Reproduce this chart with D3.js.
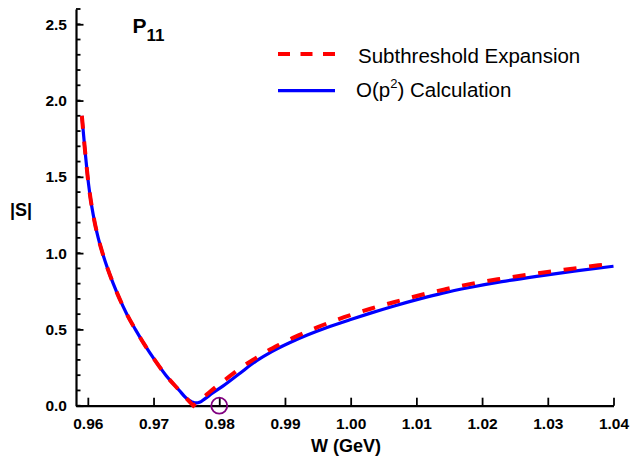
<!DOCTYPE html>
<html>
<head>
<meta charset="utf-8">
<script src="https://cdn.jsdelivr.net/npm/d3@7"></script>
<style>
  body { margin: 0; background: #fff; }
  svg { display: block; font-family: Arial, "Liberation Sans", sans-serif; }
</style>
</head>
<body>
<svg width="630" height="465"></svg>
<script>
const width = 630, height = 465;

// left branch, shared by both curves (W in GeV, |S|)
const wLeft = [0.95909, 0.95930, 0.95951, 0.95974, 0.95998, 0.96027, 0.96062, 0.96105, 0.96158, 0.96224,
               0.96300, 0.96387, 0.96484, 0.96594, 0.96723, 0.96863, 0.97017, 0.97187, 0.97393, 0.97496];
const sLeft = [1.90, 1.80, 1.70, 1.60, 1.50, 1.40, 1.30, 1.20, 1.10, 1.00,
               0.90, 0.80, 0.70, 0.60, 0.50, 0.40, 0.30, 0.20, 0.10, 0.05];

// subthreshold expansion (red dashed), right of the left branch
const wRed = [0.97606, 0.9780, 0.9796, 0.9815, 0.9834, 0.9853, 0.9872, 0.9891, 0.9910, 0.9930,
              0.9949, 0.9990, 1.0029, 1.0067, 1.0105, 1.0143, 1.0181, 1.0227, 1.0273, 1.0325,
              1.0377, 1.0400];
const sRed = [0.0, 0.07, 0.127, 0.19, 0.252, 0.305, 0.355, 0.399, 0.44, 0.478,
              0.513, 0.58, 0.634, 0.68, 0.724, 0.762, 0.797, 0.831, 0.861, 0.891,
              0.92, 0.932];

// O(p^2) calculation (blue solid), right of the left branch
const wBlue = [0.9755, 0.9760, 0.9765, 0.9770, 0.9778, 0.9790, 0.9806, 0.9830, 0.9857, 0.9880,
               0.9907, 0.9935, 0.9963, 1.0000, 1.0029, 1.0065, 1.0105, 1.0140, 1.0181, 1.0230,
               1.0283, 1.0340, 1.0400];
const sBlue = [0.034, 0.022, 0.018, 0.022, 0.045, 0.083, 0.13, 0.208, 0.295, 0.355,
               0.413, 0.465, 0.511, 0.565, 0.605, 0.652, 0.700, 0.738, 0.775, 0.813,
               0.848, 0.882, 0.914];

const xTicks = [0.96, 0.97, 0.98, 0.99, 1.00, 1.01, 1.02, 1.03, 1.04];
const yTicks = [0.0, 0.5, 1.0, 1.5, 2.0, 2.5];
const yMinor = d3.range(0, 27).map(i => i / 10);

const svg = d3.select("svg");

const x = d3.scaleLinear().domain([0.9582, 1.04]).range([76, 613.5]);
const y = d3.scaleLinear().domain([0, 2.6]).range([405.7, 9]);

const zip = (w, s) => w.map((d, i) => [d, s[i]]);
const left = zip(wLeft, sLeft);
const bluePts = left.concat(zip(wBlue, sBlue));

const line = d3.line()
    .x(d => x(d[0]))
    .y(d => y(d[1]))
    .curve(d3.curveMonotoneX);

// red has a sharp V at the minimum: join two smooth pieces
const redLeft = left.concat([[wRed[0], sRed[0]]]);
const redRight = zip(wRed, sRed);
const redPath = line(redLeft) + line(redRight).replace(/^M/, "L");

// minor y ticks
svg.append("g")
    .selectAll("line")
    .data(yMinor)
    .enter().append("line")
    .attr("x1", 76).attr("x2", 80.5)
    .attr("y1", d => y(d)).attr("y2", d => y(d))
    .style("stroke", "black")
    .style("stroke-width", 1.8);

const yAxis = svg.append("g")
    .attr("transform", "translate(76,0)")
    .call(d3.axisLeft(y).tickValues(yTicks).tickFormat(d3.format(".1f"))
        .tickSizeInner(-7.5).tickSizeOuter(0).tickPadding(9));

const xAxis = svg.append("g")
    .attr("transform", "translate(0,405.7)")
    .call(d3.axisBottom(x).tickValues(xTicks).tickFormat(d3.format(".2f"))
        .tickSizeInner(-8).tickSizeOuter(0).tickPadding(12.5));

[xAxis, yAxis].forEach(a => {
    a.select(".domain").style("stroke-width", 2.2);
    a.selectAll(".tick line").style("stroke-width", 1.8);
    a.selectAll("text")
        .attr("font-family", "Arial, 'Liberation Sans', sans-serif")
        .attr("font-size", "15.5px")
        .attr("font-weight", "bold")
        .attr("fill", "black");
});

// curves
svg.append("path")
    .attr("d", line(bluePts))
    .style("fill", "none")
    .style("stroke", "#0000ff")
    .style("stroke-width", 3.2);

svg.append("path")
    .attr("d", redPath)
    .style("fill", "none")
    .style("stroke", "#ff0000")
    .style("stroke-width", 4)
    .style("stroke-dasharray", "13,12.7");

// marker circle at 0.98
svg.append("circle")
    .attr("cx", x(0.98))
    .attr("cy", y(0))
    .attr("r", 8)
    .style("fill", "none")
    .style("stroke", "#800080")
    .style("stroke-width", 1.8);

// title P11
const title = svg.append("text")
    .attr("x", 132.5)
    .attr("y", 33.3)
    .attr("font-size", "21px")
    .attr("font-weight", "bold");
title.append("tspan").text("P");
title.append("tspan").attr("font-size", "17px").attr("dy", 7.4).text("11");

// legend
svg.append("line")
    .attr("x1", 278).attr("x2", 335).attr("y1", 54).attr("y2", 54)
    .style("stroke", "#ff0000")
    .style("stroke-width", 4)
    .style("stroke-dasharray", "12,10.5");
svg.append("line")
    .attr("x1", 278).attr("x2", 335).attr("y1", 90.7).attr("y2", 90.7)
    .style("stroke", "#0000ff")
    .style("stroke-width", 3.2);

svg.append("text")
    .attr("x", 358).attr("y", 63.3)
    .attr("font-size", "20.5px")
    .text("Subthreshold Expansion");

const lab2 = svg.append("text")
    .attr("x", 356).attr("y", 96.7)
    .attr("font-size", "20.5px");
lab2.append("tspan").text("O(p");
lab2.append("tspan").attr("font-size", "13px").attr("dy", -9).text("2");
lab2.append("tspan").attr("dy", 9).text(") Calculation");

// axis titles
svg.append("text")
    .attr("x", 346)
    .attr("y", 452)
    .attr("text-anchor", "middle")
    .attr("font-size", "18px")
    .attr("font-weight", "bold")
    .text("W (GeV)");

svg.append("text")
    .attr("x", 10)
    .attr("y", 216)
    .attr("font-size", "18px")
    .attr("font-weight", "bold")
    .text("|S|");
</script>
</body>
</html>
